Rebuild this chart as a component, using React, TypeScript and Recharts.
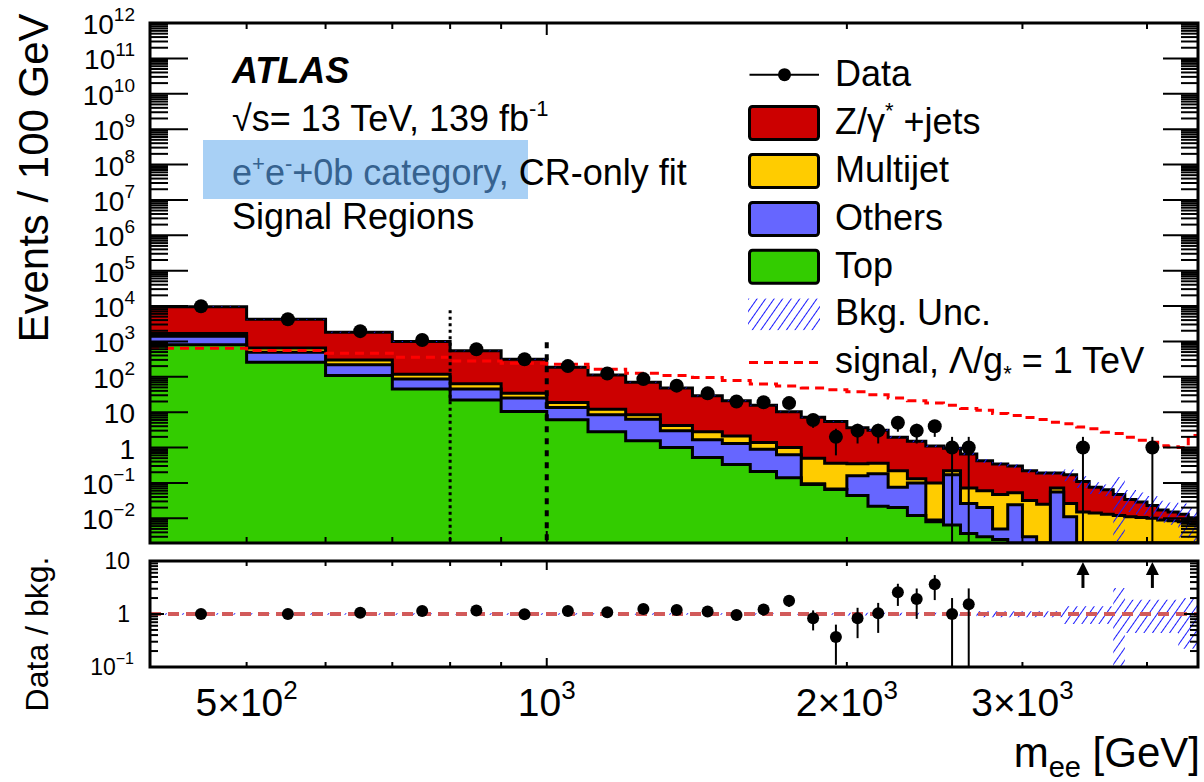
import React from 'react';
import { ComposedChart, Area, Line, Scatter, XAxis, YAxis, ErrorBar, ReferenceLine } from 'recharts';

const FONT = '"Liberation Sans", Arial, Helvetica, sans-serif';

// ---------- layout ----------
const W = 1204;
const MAIN_H = 560;
const PL = 150, PR = 1198, PT = 23, PB = 543;
const RATIO_TOP = 545, RATIO_H = 237;
const RPT = 16, RPB = 122;

const X_MIN = 400, X_MAX = 4500;
const Y_MIN = 0.002, Y_MAX = 1e12;
const R_MIN = 0.1, R_MAX = 10;

// ---------- data ----------
const binEdges = [400, 500, 600, 700, 800, 900, 1000, 1100, 1200, 1300, 1400, 1500, 1600, 1700, 1800, 1900, 2000,
  2100, 2200, 2300, 2400, 2500, 2600, 2700, 2800, 2900, 3000, 3100, 3200, 3300, 3400, 3500, 3600, 3700, 3800, 3900,
  4000, 4100, 4200, 4300, 4400, 4500];

// stacked histogram levels (upper edge of each stacked component), per bin
const levelTotal = [9600, 4200, 1820, 990, 540, 314, 187, 113, 70, 48, 29, 21, 15.6, 10.2, 7.2, 5.4, 3.6, 3.1, 1.95,
  1.5, 1.1, 0.95, 0.66, 0.42, 0.34, 0.30, 0.22, 0.19, 0.19, 0.17, 0.11, 0.075, 0.064, 0.047, 0.034, 0.029, 0.023,
  0.017, 0.015, 0.013, 0.0104];
const levelMultijet = [1660, 655, 300, 118, 63, 34, 18.7, 12.1, 8.4, 4.2, 2.8, 2.1, 1.38, 1.0, 0.5, 0.36, 0.35, 0.36,
  0.22, 0.13, 0.10, 0.22, 0.072, 0.06, 0.047, 0.053, 0.032, 0.025, 0.072, 0.026, 0.015, 0.014, 0.013, 0.012, 0.011,
  0.0105, 0.01, 0.009, 0.0085, 0.008, 0.007];
const levelOthers = [1400, 495, 217, 87, 45, 25, 13.5, 8.4, 6.3, 2.96, 1.65, 1.3, 0.9, 0.62, 0.094, 0.067, 0.16, 0.18,
  0.075, 0.10, 0.009, 0.17, 0.026, 0.02, 0.005, 0.024, 0.003, 0.002, 0.055, 0.011, 0.002, 0.002, 0.002, 0.002, 0.002,
  0.002, 0.002, 0.002, 0.002, 0.002, 0.002];
const levelTop = [800, 258, 108, 45, 22, 10.4, 6.1, 2.8, 1.55, 1.0, 0.52, 0.33, 0.21, 0.14, 0.09, 0.065, 0.044, 0.022,
  0.02, 0.012, 0.008, 0.0065, 0.0037, 0.003, 0.0025, 0.002, 0.002, 0.002, 0.002, 0.002, 0.002, 0.002, 0.002, 0.002,
  0.002, 0.002, 0.002, 0.002, 0.002, 0.002, 0.002];
const signalLevel = [645, 550, 465, 358, 280, 242, 227, 162, 126, 108, 95, 78, 62, 55, 48, 43, 38, 31, 25, 21, 18,
  15.7, 12.6, 11.3, 9.1, 8.1, 7.0, 6.2, 5.2, 4.7, 3.8, 3.4, 2.7, 2.5, 1.95, 1.6, 1.4, 1.12, 1.05, 1.0, 2.2];
// relative background uncertainty per bin
const bkgUncUp = [0.03, 0.03, 0.03, 0.03, 0.03, 0.03, 0.03, 0.03, 0.03, 0.03, 0.03, 0.03, 0.03, 0.03, 0.03, 0.03,
  0.06, 0.06, 0.06, 0.06, 0.06, 0.06, 0.06, 0.13, 0.13, 0.13, 0.13, 0.13, 0.13, 0.4, 0.4, 0.4, 0.4, 2.1, 0.85, 0.85,
  0.85, 0.85, 0.85, 1.0, 1.0];
const bkgUncDown = [0.03, 0.03, 0.03, 0.03, 0.03, 0.03, 0.03, 0.03, 0.03, 0.03, 0.03, 0.03, 0.03, 0.03, 0.03, 0.03,
  0.06, 0.06, 0.06, 0.06, 0.06, 0.06, 0.06, 0.13, 0.13, 0.13, 0.13, 0.13, 0.13, 0.35, 0.35, 0.35, 0.35, 0.97, 0.56,
  0.56, 0.56, 0.56, 0.56, 0.78, 0.78];

// data points
const dataMass = [450, 550, 650, 750, 850, 950, 1050, 1150, 1250, 1350, 1450, 1550, 1650, 1750, 1850, 1950, 2050,
  2150, 2250, 2350, 2450, 2550, 2650, 3450, 4050];
const dataEvents = [9800, 4240, 1950, 1100, 600, 312, 200, 124, 86, 56, 34, 20, 19, 18, 6, 2, 3, 3, 5, 3, 4, 1, 1, 1, 1];
const dataErr = [99, 65, 44, 33, 24.5, 17.7, 14.1, 11.1, 9.3, 7.5, 5.8, 4.5, 4.4, 4.2, 2.4, 1.4, 1.7, 1.7, 2.2, 1.7,
  2.0, 1, 1, 1, 1];

// ratio panel
const ratioValue = [1.0, 1.0, 1.06, 1.14, 1.17, 0.99, 1.14, 1.08, 1.24, 1.19, 1.11, 0.96, 1.22, 1.78, 0.83, 0.37,
  0.83, 1.03, 2.57, 1.92, 3.63, 1.0, 1.52];
const ratioErr = [0.01, 0.015, 0.024, 0.035, 0.048, 0.056, 0.08, 0.097, 0.134, 0.16, 0.19, 0.21, 0.28, 0.42, 0.34,
  0.26, 0.48, 0.59, 1.15, 1.11, 1.8, 1.0, 1.52];
const arrowMass = [3450, 4050];
const arrowBase = 3.1;

// signal-region boundaries
const srDotted = { mass: 800, top: 7600 };
const srDashed = { mass: 1000, top: 950 };

// ticks
const xTickValues = [500, 600, 700, 800, 900, 1000, 2000, 3000, 4000];
const xTickLabels: Record<number, [string, string]> = {
  500: ['5×10', '2'], 1000: ['10', '3'], 2000: ['2×10', '3'], 3000: ['3×10', '3'],
};
const mainMajorExp = [-2, -1, 0, 1, 2, 3, 4, 5, 6, 7, 8, 9, 10, 11, 12];
const ratioMajorExp = [-1, 0, 1];
const minorMult = [2, 3, 4, 5, 6, 7, 8, 9];

function buildLogTicks(majors: number[], lo: number, hi: number) {
  const out: number[] = [];
  const eMin = Math.floor(Math.log10(lo));
  const eMax = Math.ceil(Math.log10(hi));
  for (let e = eMin; e <= eMax; e++) {
    for (const m of minorMult) {
      const v = m * Math.pow(10, e);
      if (v > lo * 1.001 && v < hi * 0.999) out.push(v);
    }
  }
  majors.forEach((e) => out.push(Math.pow(10, e)));
  return out.sort((a, b) => a - b);
}
const mainYTicks = buildLogTicks(mainMajorExp, Y_MIN, Y_MAX);
const ratioYTicks = buildLogTicks(ratioMajorExp, R_MIN, R_MAX);

// ---------- derived tables ----------
const nBins = levelTotal.length;
const mainRows = binEdges.map((edge, i) => {
  const k = Math.min(i, nBins - 1);
  const t = levelTotal[k];
  return {
    x: edge,
    total: t,
    multijet: levelMultijet[k],
    others: levelOthers[k],
    top: levelTop[k],
    signal: signalLevel[k],
    unc: [Math.max(Y_MIN, t * (1 - bkgUncDown[k])), t * (1 + bkgUncUp[k])],
  };
});
const ratioRows = binEdges.map((edge, i) => {
  const k = Math.min(i, nBins - 1);
  return { x: edge, band: [Math.max(R_MIN, 1 - bkgUncDown[k]), Math.min(R_MAX, 1 + bkgUncUp[k])] };
});
const dataRows = dataMass.map((m, i) => ({
  x: m,
  y: dataEvents[i],
  err: [Math.min(dataErr[i], dataEvents[i] - Y_MIN), dataErr[i]],
}));
const ratioPoints = ratioValue.map((r, i) => ({
  x: dataMass[i],
  y: r,
  err: [Math.min(ratioErr[i], r - R_MIN), Math.min(ratioErr[i], R_MAX - r)],
}));
const arrowRows = arrowMass.map((m) => ({ x: m, y: arrowBase }));

// ---------- helpers ----------
const isMajor = (v: number) => Math.abs(Math.log10(v) - Math.round(Math.log10(v))) < 1e-6;
const expText = (e: number) => (e < 0 ? '−' + Math.abs(e) : String(e));

const MainXTick = (p: any) => {
  const x = p.x;
  const major = p.payload.value === 1000;
  const len = major ? 12 : 6;
  return (
    <g>
      <line x1={x} x2={x} y1={PB} y2={PB - len} stroke="#000" strokeWidth={2} />
      <line x1={x} x2={x} y1={PT} y2={PT + len} stroke="#000" strokeWidth={2} />
    </g>
  );
};

const MainYTick = (p: any) => {
  const y = p.y;
  const v = p.payload.value;
  const major = isMajor(v);
  const e = Math.round(Math.log10(v));
  let label: React.ReactNode = null;
  if (major) {
    if (e === 0) label = <text x={135} y={y + 11} textAnchor="end" fontSize={28} fontFamily={FONT}>1</text>;
    else if (e === 1) label = <text x={135} y={y + 11} textAnchor="end" fontSize={28} fontFamily={FONT}>10</text>;
    else
      label = (
        <text x={135} y={y + 11} textAnchor="end" fontSize={28} fontFamily={FONT}>
          10<tspan dy={-13} fontSize={19}>{expText(e)}</tspan>
        </text>
      );
  }
  return (
    <g>
      <line x1={PL} x2={PL + (major ? 38 : 18)} y1={y} y2={y} stroke="#000" strokeWidth={2} />
      <line x1={PR} x2={PR - (major ? 35 : 17)} y1={y} y2={y} stroke="#000" strokeWidth={2} />
      {label}
    </g>
  );
};

const RatioXTick = (p: any) => {
  const x = p.x;
  const v = p.payload.value;
  const major = v === 1000;
  const len = major ? 9 : 5;
  const lab = xTickLabels[v];
  return (
    <g>
      <line x1={x} x2={x} y1={RPB} y2={RPB - len} stroke="#000" strokeWidth={2} />
      <line x1={x} x2={x} y1={RPT} y2={RPT + len} stroke="#000" strokeWidth={2} />
      {lab && (
        <text x={x} y={171} textAnchor="middle" fontSize={39} fontFamily={FONT}>
          {lab[0]}
          <tspan dy={-17} fontSize={26}>{lab[1]}</tspan>
        </text>
      )}
    </g>
  );
};

const RatioYTick = (p: any) => {
  const y = p.y;
  const v = p.payload.value;
  const major = isMajor(v);
  const e = Math.round(Math.log10(v));
  let label: React.ReactNode = null;
  if (major) {
    if (e === 0) label = <text x={130} y={y + 8} textAnchor="end" fontSize={23} fontFamily={FONT}>1</text>;
    else if (e === 1) label = <text x={130} y={y + 8} textAnchor="end" fontSize={23} fontFamily={FONT}>10</text>;
    else
      label = (
        <text x={134} y={y + 8} textAnchor="end" fontSize={23} fontFamily={FONT}>
          10<tspan dy={-11} fontSize={16}>{expText(e)}</tspan>
        </text>
      );
  }
  return (
    <g>
      <line x1={PL} x2={PL + (major ? 14 : 8)} y1={y} y2={y} stroke="#000" strokeWidth={2} />
      <line x1={PR} x2={PR - (major ? 14 : 8)} y1={y} y2={y} stroke="#000" strokeWidth={2} />
      {label}
    </g>
  );
};

const Dot = (p: any) => <circle cx={p.cx} cy={p.cy} r={7} fill="#000" />;
const RatioDot = (p: any) => <circle cx={p.cx} cy={p.cy} r={6} fill="#000" />;
const Arrow = (p: any) => (
  <g>
    <line x1={p.cx} x2={p.cx} y1={p.cy} y2={p.cy - 14} stroke="#000" strokeWidth={3} />
    <polygon points={`${p.cx - 6.5},${p.cy - 13} ${p.cx + 6.5},${p.cy - 13} ${p.cx},${p.cy - 26}`} fill="#000" />
  </g>
);

const HatchDef = ({ id }: { id: string }) => (
  <defs>
    <pattern id={id} width={7} height={7} patternUnits="userSpaceOnUse" patternTransform="rotate(35)">
      <line x1={0} y1={0} x2={0} y2={7} stroke="#1a1aff" strokeWidth={2} />
    </pattern>
  </defs>
);

// ---------- legend ----------
const legendBoxes = [
  { label: 'zjets', color: '#cc0000', cy: 123 },
  { label: 'Multijet', color: '#ffcc00', cy: 171 },
  { label: 'Others', color: '#6666ff', cy: 219 },
  { label: 'Top', color: '#33cc00', cy: 266.7 },
];

export default function App() {
  return (
    <div style={{ position: 'absolute', left: 0, top: 0, width: W, height: 782, background: '#fff' }}>
      <div style={{ position: 'absolute', left: 0, top: 0 }}>
        <ComposedChart width={W} height={MAIN_H} data={mainRows} margin={{ top: PT, right: W - PR, left: 0, bottom: MAIN_H - PB - 10 }}>
          <HatchDef id="hatchMain" />
          <XAxis dataKey="x" type="number" scale="log" domain={[X_MIN, X_MAX]} allowDataOverflow ticks={xTickValues}
            interval={0} tick={MainXTick} tickLine={false} axisLine={false} height={10} />
          <YAxis type="number" scale="log" domain={[Y_MIN, Y_MAX]} allowDataOverflow ticks={mainYTicks} interval={0}
            tick={MainYTick} tickLine={false} axisLine={false} width={PL} />
          <Area dataKey="total" type="stepAfter" baseValue={Y_MIN} fill="#cc0000" fillOpacity={1} stroke="#000"
            strokeWidth={3} dot={false} activeDot={false} isAnimationActive={false} />
          <Area dataKey="multijet" type="stepAfter" baseValue={Y_MIN} fill="#ffcc00" fillOpacity={1} stroke="#000"
            strokeWidth={3} dot={false} activeDot={false} isAnimationActive={false} />
          <Area dataKey="others" type="stepAfter" baseValue={Y_MIN} fill="#6666ff" fillOpacity={1} stroke="#000"
            strokeWidth={3} dot={false} activeDot={false} isAnimationActive={false} />
          <Area dataKey="top" type="stepAfter" baseValue={Y_MIN} fill="#33cc00" fillOpacity={1} stroke="#000"
            strokeWidth={3} dot={false} activeDot={false} isAnimationActive={false} />
          <Area dataKey="unc" type="stepAfter" fill="url(#hatchMain)" fillOpacity={1} stroke="none"
            dot={false} activeDot={false} isAnimationActive={false} />
          <Line dataKey="signal" type="stepAfter" stroke="#ff0000" strokeWidth={3} strokeDasharray="9 6"
            dot={false} activeDot={false} isAnimationActive={false} />
          <ReferenceLine segment={[{ x: srDotted.mass, y: srDotted.top }, { x: srDotted.mass, y: Y_MIN }]}
            stroke="#000" strokeWidth={3} strokeDasharray="3 3.5" ifOverflow="visible" />
          <ReferenceLine segment={[{ x: srDashed.mass, y: srDashed.top }, { x: srDashed.mass, y: Y_MIN }]}
            stroke="#000" strokeWidth={4} strokeDasharray="6 6" ifOverflow="visible" />
          <Scatter data={dataRows} dataKey="y" shape={Dot} isAnimationActive={false}>
            <ErrorBar dataKey="err" direction="y" width={0} stroke="#000" strokeWidth={2} />
          </Scatter>
        </ComposedChart>
      </div>

      <div style={{ position: 'absolute', left: 0, top: RATIO_TOP }}>
        <ComposedChart width={W} height={RATIO_H} data={ratioRows} margin={{ top: RPT, right: W - PR, left: 0, bottom: 0 }}>
          <HatchDef id="hatchRatio" />
          <XAxis dataKey="x" type="number" scale="log" domain={[X_MIN, X_MAX]} allowDataOverflow ticks={xTickValues}
            interval={0} tick={RatioXTick} tickLine={false} axisLine={false} height={RATIO_H - RPB} />
          <YAxis type="number" scale="log" domain={[R_MIN, R_MAX]} allowDataOverflow ticks={ratioYTicks} interval={0}
            tick={RatioYTick} tickLine={false} axisLine={false} width={PL} />
          <Area dataKey="band" type="stepAfter" fill="url(#hatchRatio)" fillOpacity={1} stroke="none"
            dot={false} activeDot={false} isAnimationActive={false} />
          <ReferenceLine y={1} stroke="#d25a5a" strokeWidth={4} strokeDasharray="11 7" />
          <Scatter data={ratioPoints} dataKey="y" shape={RatioDot} isAnimationActive={false}>
            <ErrorBar dataKey="err" direction="y" width={0} stroke="#000" strokeWidth={2} />
          </Scatter>
          <Scatter data={arrowRows} dataKey="y" shape={Arrow} isAnimationActive={false} />
        </ComposedChart>
      </div>

      <svg width={W} height={782} style={{ position: 'absolute', left: 0, top: 0, pointerEvents: 'none' }}>
        <HatchDef id="hatchLegend" />
        {/* frames */}
        <rect x={PL} y={PT} width={PR - PL} height={PB - PT} fill="none" stroke="#000" strokeWidth={3} />
        <rect x={PL} y={RATIO_TOP + RPT} width={PR - PL} height={RPB - RPT} fill="none" stroke="#000" strokeWidth={3} />

        {/* axis titles */}
        <text transform="translate(48,178) rotate(-90)" textAnchor="middle" fontSize={42} fontFamily={FONT}>
          Events / 100 GeV
        </text>
        <text transform="translate(48,634) rotate(-90)" textAnchor="middle" fontSize={32} fontFamily={FONT}>
          Data / bkg.
        </text>
        <text x={1200} y={767} textAnchor="end" fontSize={42} fontFamily={FONT}>
          m<tspan dy={10} fontSize={29}>ee</tspan>
          <tspan dy={-10}> [GeV]</tspan>
        </text>

        {/* annotation block */}
        <text x={232} y={83} fontSize={36} fontWeight="bold" fontStyle="italic" fontFamily={FONT}>ATLAS</text>
        <text x={232} y={131} fontSize={36} fontFamily={FONT}>
          √s= 13 TeV, 139 fb<tspan dy={-15} fontSize={22}>-1</tspan>
        </text>
        <rect x={203} y={140} width={325} height={59} fill="#a8d0f5" />
        <text x={232} y={185} fontSize={36} fontFamily={FONT}>
          <tspan fill="#36628f">e</tspan>
          <tspan fill="#36628f" dy={-14} fontSize={22}>+</tspan>
          <tspan fill="#36628f" dy={14}>e</tspan>
          <tspan fill="#36628f" dy={-14} fontSize={22}>-</tspan>
          <tspan fill="#36628f" dy={14}>+0b category,</tspan>
          <tspan fill="#000"> CR-only fit</tspan>
        </text>
        <text x={232} y={229} fontSize={36} fontFamily={FONT}>Signal Regions</text>

        {/* legend */}
        <line x1={749.5} x2={819} y1={74.7} y2={74.7} stroke="#000" strokeWidth={2} />
        <circle cx={784.5} cy={74.7} r={6.5} fill="#000" />
        <text x={835} y={86} fontSize={36} fontFamily={FONT}>Data</text>
        {legendBoxes.map((b) => (
          <rect key={b.label} x={749.5} y={b.cy - 16.5} width={69} height={33} rx={3} fill={b.color} stroke="#000" strokeWidth={3} />
        ))}
        <text x={835} y={134} fontSize={36} fontFamily={FONT}>
          Z/γ<tspan dy={-16} fontSize={22}>*</tspan>
          <tspan dy={16}> +jets</tspan>
        </text>
        <text x={835} y={182} fontSize={36} fontFamily={FONT}>Multijet</text>
        <text x={835} y={230} fontSize={36} fontFamily={FONT}>Others</text>
        <text x={835} y={278} fontSize={36} fontFamily={FONT}>Top</text>
        <rect x={748} y={298.6} width={72} height={31.5} fill="url(#hatchLegend)" />
        <text x={835} y={325} fontSize={36} fontFamily={FONT}>Bkg. Unc.</text>
        <line x1={749} x2={819} y1={362.5} y2={362.5} stroke="#ff0000" strokeWidth={3} strokeDasharray="9 6" />
        <text x={835} y={373} fontSize={36} fontFamily={FONT}>
          signal, Λ/g<tspan dy={8} fontSize={22}>*</tspan>
          <tspan dy={-8}> = 1 TeV</tspan>
        </text>
      </svg>
    </div>
  );
}
